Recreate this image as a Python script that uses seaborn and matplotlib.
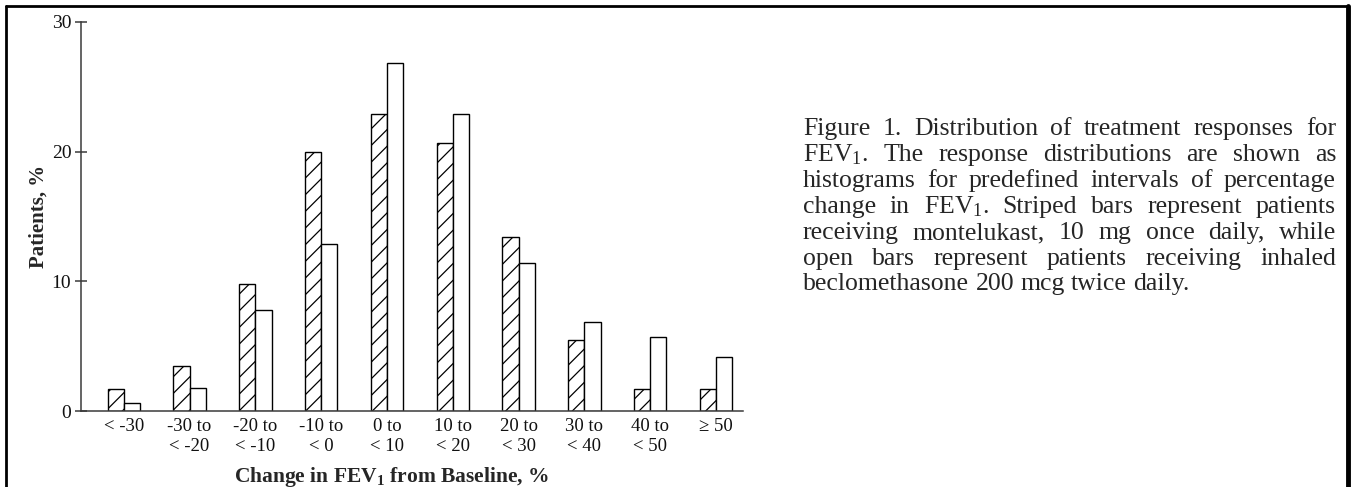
import matplotlib

matplotlib.use("Agg")
import matplotlib.pyplot as plt
import pandas as pd
import seaborn as sns
from matplotlib.lines import Line2D

# %%
# values (percent of patients per interval)
categories = [
    "< -30",
    "-30 to\n< -20",
    "-20 to\n< -10",
    "-10 to\n< 0",
    "0 to\n< 10",
    "10 to\n< 20",
    "20 to\n< 30",
    "30 to\n< 40",
    "40 to\n< 50",
    "\u2265 50",
]
montelukast = [1.7, 3.5, 9.8, 20.0, 22.9, 20.7, 13.4, 5.5, 1.7, 1.7]
beclomethasone = [0.6, 1.8, 7.8, 12.9, 26.8, 22.9, 11.4, 6.9, 5.7, 4.2]
groups = ["Montelukast", "Beclomethasone"]
y_ticks = [0, 10, 20, 30]

caption_lines = [
    "Figure 1. Distribution of treatment responses for",
    "FEV$_1$.  The response distributions are shown as",
    "histograms for predefined intervals of percentage",
    "change in FEV$_1$.  Striped bars represent patients",
    "receiving montelukast, 10 mg once daily, while",
    "open bars represent patients receiving inhaled",
    "beclomethasone 200 mcg twice daily.",
]

df = pd.DataFrame(
    {
        "interval": categories * 2,
        "group": [groups[0]] * len(categories) + [groups[1]] * len(categories),
        "patients": montelukast + beclomethasone,
    }
)

# %%
sns.set_theme(style="ticks")
plt.rcParams["font.family"] = ["Liberation Serif", "DejaVu Serif"]
plt.rcParams["mathtext.fontset"] = "custom"
plt.rcParams["mathtext.rm"] = "Liberation Serif"
plt.rcParams["mathtext.it"] = "Liberation Serif:italic"
plt.rcParams["mathtext.bf"] = "Liberation Serif:bold"
plt.rcParams["mathtext.default"] = "regular"
plt.rcParams["hatch.linewidth"] = 0.9
plt.rcParams["hatch.color"] = "black"

W, H = 1351, 487
fig = plt.figure(figsize=(W / 100, H / 100), dpi=100)
ax = fig.add_axes([81 / W, 1 - 411 / H, (743 - 81) / W, (411 - 22) / H])

sns.barplot(
    df,
    x="interval",
    y="patients",
    hue="group",
    order=categories,
    hue_order=groups,
    palette={g: "white" for g in groups},
    saturation=1,
    width=0.49,
    edgecolor="black",
    linewidth=1.0,
    legend=False,
    ax=ax,
)
for bar in ax.containers[0]:
    bar.set_hatch("//")

ax.set_xlim(-0.65, 9.41)
ax.set_ylim(0, 30)
ax.set_yticks(y_ticks)
sns.despine(ax=ax)
for side in ["left", "bottom"]:
    ax.spines[side].set_color("#3a3a3a")
    ax.spines[side].set_linewidth(1.1)

ax.tick_params(axis="x", length=0, pad=5, labelsize=13.5, colors="#111111")
ax.tick_params(
    axis="y", direction="inout", length=8, width=1.1, pad=3,
    labelsize=14, color="#3a3a3a", labelcolor="#111111",
)

ax.set_xlabel("Change in FEV$_1$ from Baseline, %", fontsize=15.5, fontweight="bold")
ax.xaxis.set_label_coords((392 - 81) / 662, -0.14)
ax.set_ylabel("Patients, %", fontsize=15, fontweight="bold")
ax.yaxis.set_label_coords((49 - 81) / 662, 0.5)

# %%
# caption on the right, justified by hand
cap_size = 18.5
x0, x1 = 803, 1336
baselines = [135, 161, 187, 213, 239, 265, 290]
renderer = fig.canvas.get_renderer()
for i, (line, base) in enumerate(zip(caption_lines, baselines)):
    words = line.split()
    texts = [
        fig.text(0, 1 - base / H, w, fontsize=cap_size, va="baseline", ha="left")
        for w in words
    ]
    widths = [t.get_window_extent(renderer).width for t in texts]
    if i == len(caption_lines) - 1:
        gap = 0.25 * cap_size * 100 / 72
    else:
        gap = (x1 - x0 - sum(widths)) / (len(words) - 1)
    x = x0
    for t, w in zip(texts, widths):
        t.set_x(x / W)
        x += w + gap

# frame around the figure (no bottom edge in the scan)
fig.add_artist(Line2D([6 / W, 1348 / W], [1 - 6 / H, 1 - 6 / H], color="black", lw=2, transform=fig.transFigure))
fig.add_artist(Line2D([6 / W, 6 / W], [0, 1 - 6 / H], color="black", lw=2, transform=fig.transFigure))
fig.add_artist(Line2D([1348 / W, 1348 / W], [0, 1 - 6 / H], color="black", lw=3.5, transform=fig.transFigure))

plt.savefig("out.png", dpi=100)
